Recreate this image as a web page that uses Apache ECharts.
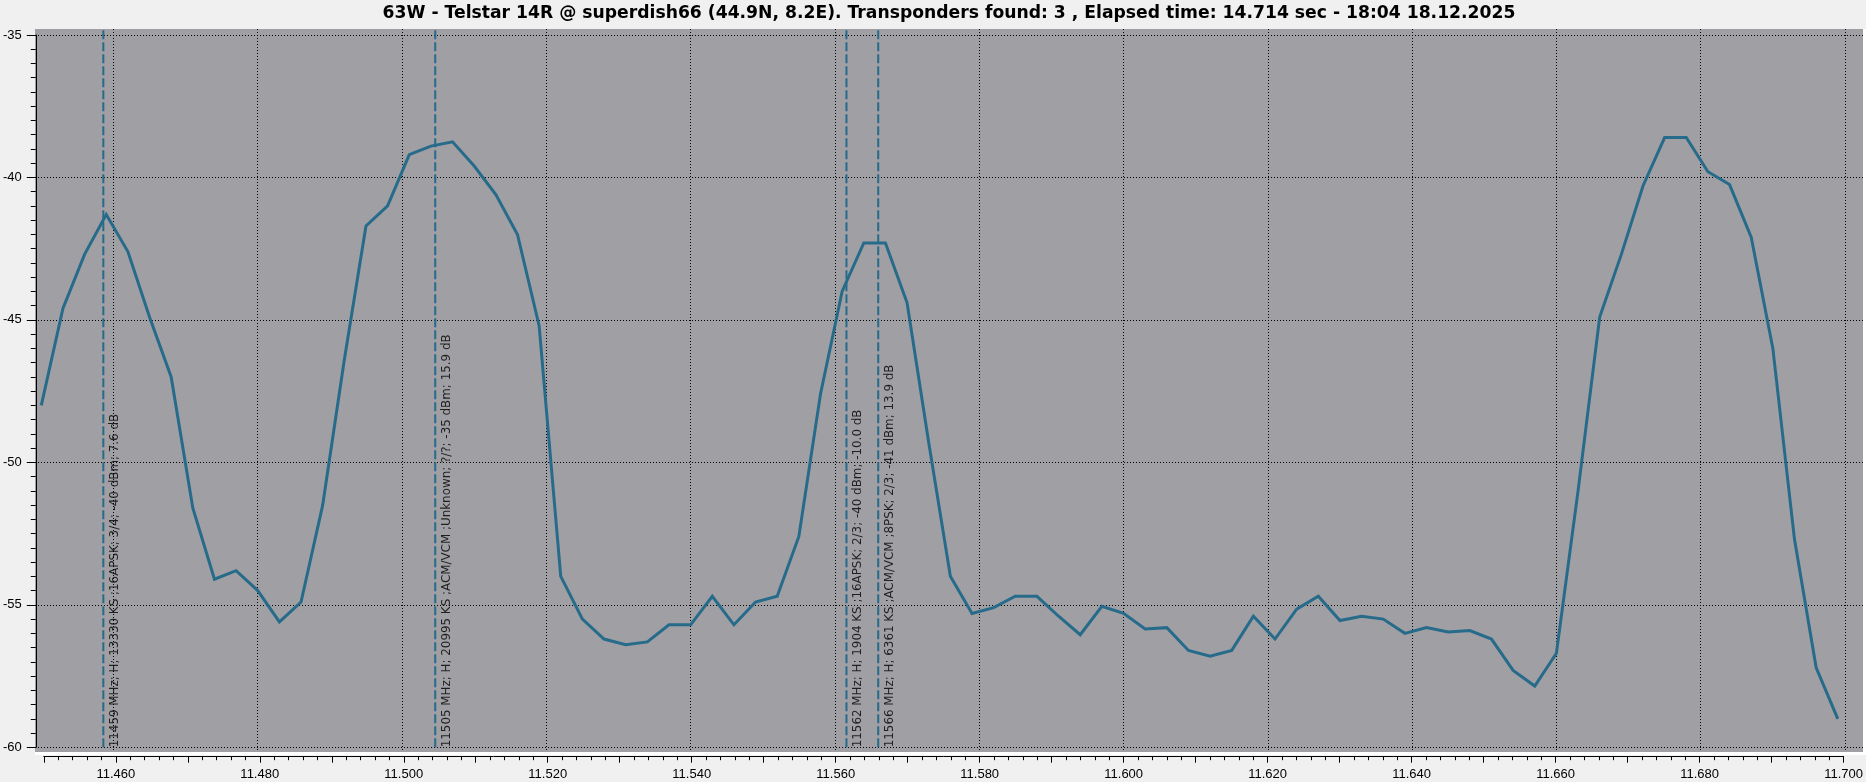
<!DOCTYPE html>
<html>
<head>
<meta charset="utf-8">
<script src="https://cdn.jsdelivr.net/npm/echarts@6/dist/echarts.min.js"></script>
<style>
html,body{margin:0;padding:0;background:#f0f0f0;}
#chart{width:1866px;height:782px;}
</style>
</head>
<body>
<div id="chart"></div>
<script>
// ---------------- DATA ----------------
const titleText = '63W - Telstar 14R @ superdish66 (44.9N, 8.2E). Transponders found: 3 , Elapsed time: 14.714 sec - 18:04 18.12.2025';

const freqGHz = [
  11.450, 11.453, 11.456, 11.459, 11.462, 11.465, 11.468, 11.471, 11.474, 11.477,
  11.480, 11.483, 11.486, 11.489, 11.492, 11.495, 11.498, 11.501, 11.504, 11.507,
  11.510, 11.513, 11.516, 11.519, 11.522, 11.525, 11.528, 11.531, 11.534, 11.537,
  11.540, 11.543, 11.546, 11.549, 11.552, 11.555, 11.558, 11.561, 11.564, 11.567,
  11.570, 11.573, 11.576, 11.579, 11.582, 11.585, 11.588, 11.591, 11.594, 11.597,
  11.600, 11.603, 11.606, 11.609, 11.612, 11.615, 11.618, 11.621, 11.624, 11.627,
  11.630, 11.633, 11.636, 11.639, 11.642, 11.645, 11.648, 11.651, 11.654, 11.657,
  11.660, 11.663, 11.666, 11.669, 11.672, 11.675, 11.678, 11.681, 11.684, 11.687,
  11.690, 11.693, 11.696, 11.699
];

const levelDbm = [
  -48.0, -44.6, -42.7, -41.3, -42.6, -44.9, -47.0, -51.6, -54.1, -53.8,
  -54.5, -55.6, -54.9, -51.5, -46.4, -41.7, -41.0, -39.2, -38.9, -38.75,
  -39.6, -40.6, -42.0, -45.2, -54.0, -55.5, -56.2, -56.4, -56.3, -55.7,
  -55.7, -54.7, -55.7, -54.9, -54.7, -52.6, -47.6, -44.0, -42.3, -42.3,
  -44.4, -49.3, -54.0, -55.3, -55.1, -54.7, -54.7, -55.4, -56.05, -55.05,
  -55.3, -55.85, -55.8, -56.6, -56.8, -56.6, -55.4, -56.2, -55.15, -54.7,
  -55.55, -55.4, -55.5, -56.0, -55.8, -55.95, -55.9, -56.2, -57.3, -57.85,
  -56.7, -51.0, -44.9, -42.7, -40.3, -38.6, -38.6, -39.8, -40.25, -42.1,
  -46.0, -52.7, -57.2, -59.0
];

const tpFreq = [11.4586, 11.5046, 11.5616, 11.5660];
const tpLabels = [
  '11459 MHz; H; 13330 KS ;16APSK; 3/4; -40 dBm; 7.6 dB',
  '11505 MHz; H; 20995 KS ;ACM/VCM ;Unknown; ?/?; -35 dBm; 15.9 dB',
  '11562 MHz; H; 1904 KS ;16APSK; 2/3; -40 dBm; -10.0 dB',
  '11566 MHz; H; 6361 KS ;ACM/VCM ;8PSK; 2/3; -41 dBm; 13.9 dB'
];

const xTickValues = [11.46, 11.48, 11.50, 11.52, 11.54, 11.56, 11.58, 11.60, 11.62, 11.64, 11.66, 11.68, 11.70];
const yTickValues = [-60, -55, -50, -45, -40, -35];
const xAxisMin = 11.45, xAxisMax = 11.70;
const yAxisMin = -60, yAxisMax = -35;

// ---------------- LAYOUT ----------------
const GRAY = {l: 35, t: 29, w: 1828, h: 723};
const AX = {l: 41.3, r: 1845, t: 35, b: 747.3};
const pxPerX = (AX.r - AX.l) / (xAxisMax - xAxisMin);
const pxPerY = (AX.b - AX.t) / (yAxisMax - yAxisMin);
const xMinA = xAxisMin - (AX.l - GRAY.l) / pxPerX;
const xMaxA = xAxisMax + (GRAY.l + GRAY.w - AX.r) / pxPerX;
const yMaxA = yAxisMax + (AX.t - GRAY.t) / pxPerY;
const yMinA = yAxisMin - (GRAY.t + GRAY.h - AX.b) / pxPerY;

const LINE_COLOR = '#276b8b';
const dotted = {color: '#000', width: 1, type: [1, 2]};

const series = [];
tpFreq.forEach(function (f) {
  series.push({
    type: 'line', xAxisIndex: 0, yAxisIndex: 0,
    data: [[f, yAxisMin], [f, yMaxA]],
    showSymbol: false, symbol: 'none', silent: true, z: 3,
    lineStyle: {color: LINE_COLOR, width: 2, type: [9, 3]}
  });
});
series.push({
  type: 'scatter', xAxisIndex: 0, yAxisIndex: 0,
  symbolSize: 0, z: 4, silent: true,
  data: tpFreq.map(function (f, i) { return {value: [f, yAxisMin], name: tpLabels[i]}; }),
  label: {
    show: true, formatter: '{b}', position: 'inside', rotate: 90,
    align: 'left', verticalAlign: 'middle', offset: [0, 11.5],
    fontFamily: 'DejaVu Sans', fontSize: 11.9, color: '#000'
  }
});
series.push({
  type: 'line', xAxisIndex: 0, yAxisIndex: 0,
  data: freqGHz.map(function (f, i) { return [f, levelDbm[i]]; }),
  showSymbol: false, symbol: 'none', z: 5,
  lineStyle: {color: LINE_COLOR, width: 3, join: 'miter'}
});

const option = {
  backgroundColor: '#f0f0f0',
  animation: false,
  title: {
    text: titleText, left: 949, top: 5, padding: 0, textAlign: 'center',
    textStyle: {fontFamily: 'DejaVu Sans', fontWeight: 'bold', fontSize: 17.2, color: '#000'}
  },
  graphic: [{
    type: 'rect', z: -10, silent: true,
    shape: {x: GRAY.l, y: GRAY.t, width: GRAY.w + 3, height: GRAY.h + 3},
    style: {fill: '#ffffff'}
  }],
  grid: [
    {left: GRAY.l, top: GRAY.t, width: GRAY.w, height: GRAY.h, show: true,
     backgroundColor: '#a09fa4', borderWidth: 0, containLabel: false},
    {left: AX.l, top: AX.t, width: AX.r - AX.l, height: AX.b - AX.t, show: false, containLabel: false}
  ],
  xAxis: [
    {gridIndex: 0, type: 'value', min: xMinA, max: xMaxA,
     axisLine: {show: false}, axisTick: {show: false, customValues: xTickValues},
     axisLabel: {show: false, customValues: xTickValues},
     splitLine: {show: true, lineStyle: dotted}},
    {gridIndex: 1, type: 'value', min: xAxisMin, max: xAxisMax, interval: 0.01, offset: 9.4,
     axisLine: {show: true, onZero: false, lineStyle: {color: '#000', width: 1}},
     axisTick: {show: true, length: 6, lineStyle: {color: '#000', width: 1}},
     minorTick: {show: true, splitNumber: 5, length: 3.5, lineStyle: {color: '#000', width: 1}},
     axisLabel: {show: true, customValues: xTickValues, margin: 11,
       formatter: function (v) { return v.toFixed(3); },
       fontFamily: 'Liberation Sans', fontSize: 13, color: '#000'},
     splitLine: {show: false}}
  ],
  yAxis: [
    {gridIndex: 0, type: 'value', min: yMinA, max: yMaxA,
     axisLine: {show: false}, axisTick: {show: false, customValues: yTickValues},
     axisLabel: {show: false, customValues: yTickValues},
     splitLine: {show: true, lineStyle: dotted}},
    {gridIndex: 1, type: 'value', min: yAxisMin, max: yAxisMax, interval: 5, offset: 8,
     axisLine: {show: true, onZero: false, lineStyle: {color: '#000', width: 1}},
     axisTick: {show: true, length: 9, lineStyle: {color: '#000', width: 1}},
     minorTick: {show: true, splitNumber: 10, length: 5, lineStyle: {color: '#000', width: 1}},
     axisLabel: {show: true, margin: 14, fontFamily: 'Liberation Sans', fontSize: 13, color: '#000'},
     splitLine: {show: false}}
  ],
  series: series
};

const chart = echarts.init(document.getElementById('chart'), null, {renderer: 'canvas'});
chart.setOption(option);
</script>
</body>
</html>
